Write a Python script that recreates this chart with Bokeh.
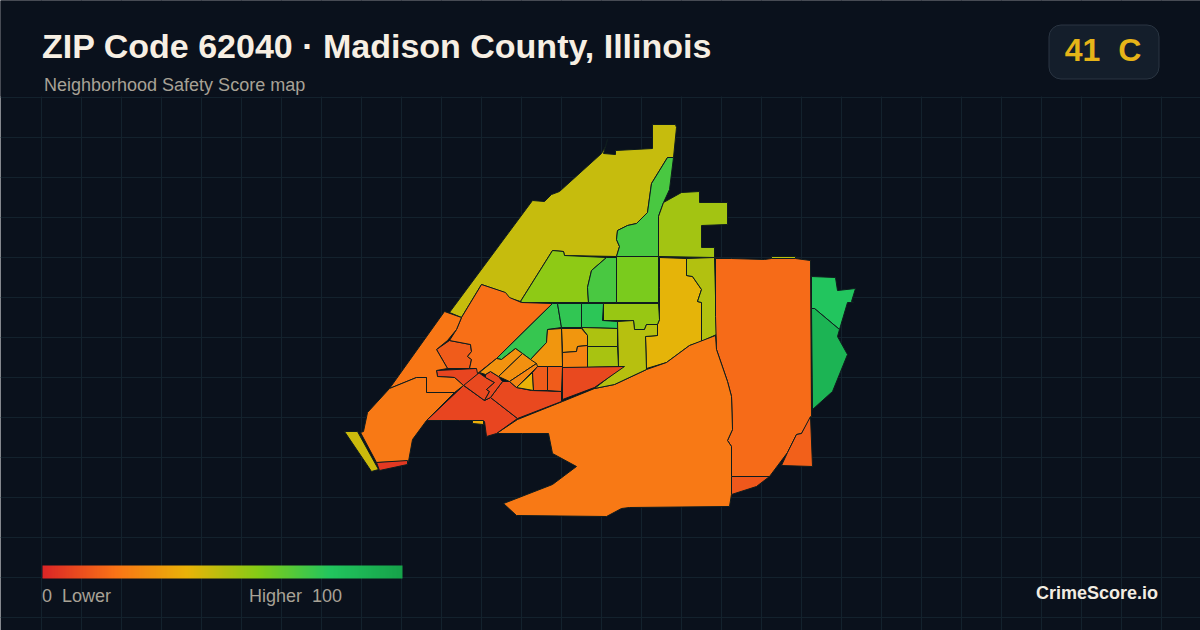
from bokeh.plotting import figure
from bokeh.embed import file_html
from bokeh.resources import INLINE
from bokeh.core.properties import value
from bokeh.models import FixedTicker, LinearColorMapper
import numpy as np

BG = "#0a111c"
title = "ZIP Code 62040 · Madison County, Illinois"
subtitle = "Neighborhood Safety Score map"
badge = "41 \u00a0C"
low_label = "0 \u00a0Lower"
high_label = "Higher \u00a0100"
brand = "CrimeScore.io"

stop_scores = [0, 20, 40, 60, 80, 100]
stop_colors = [(0xdc,0x26,0x26),(0xf9,0x73,0x16),(0xea,0xb3,0x08),(0x84,0xcc,0x16),(0x22,0xc5,0x5e),(0x16,0xa3,0x4a)]

# Tract outlines in map units, with the score of each
tracts = [
 (50, [(772,259),(796,259),(796,257),(772,257)]),
 (47, [(450,313),(533,201),(545,202),(552,195),(560,192),(602,154),(606,147),(608,140),(604,154),(616,155),(616,151),(653,149),(653,125),(676,125),(677,128),(674,158),(668,158),(652,184),(648,213),(637,224),(628,226),(618,231),(617,240),(620,247),(617,257),(565,256),(564,252),(553,251),(521,302),(508,298),(505,293),(482,285),(462,318)]),
 (72, [(674,158),(668,158),(652,184),(648,213),(637,224),(628,226),(618,231),(617,240),(620,247),(617,257),(659,257),(659,217),(664,203),(670,190)]),
 (54, [(664,203),(682,193),(700,192),(700,203),(728,203),(728,225),(702,226),(702,248),(715,248),(715,258),(659,257),(659,217)]),
 (58, [(553,251),(564,252),(565,256),(607,258),(592,271),(588,288),(589,303),(523,303),(521,302)]),
 (72, [(607,258),(617,258),(617,303),(589,303),(588,288),(592,271)]),
 (62, [(617,257),(659,257),(659,303),(617,303)]),
 (41, [(660,258),(687,259),(687,276),(693,277),(702,290),(698,302),(702,303),(702,342),(690,346),(667,363),(647,369),(646,337),(658,336),(658,325),(660,320),(660,288)]),
 (51, [(687,259),(715,258),(717,335),(702,342),(702,303),(698,302),(702,290),(693,277),(687,276)]),
 (18, [(716,259),(732,259),(765,260),(772,259),(796,259),(811,261),(812,417),(802,434),(797,435),(788,453),(770,477),(750,477),(732,477),(732,447),(728,441),(733,430),(732,397),(728,382),(717,350),(716,317)]),
 (15, [(811,417),(813,467),(782,466),(788,453),(797,435),(802,434)]),
 (13, [(732,477),(770,477),(757,487),(732,495)]),
 (80, [(812,277),(836,278),(838,291),(856,289),(852,302),(854,303),(848,303),(840,330),(815,309),(812,309)]),
 (90, [(812,309),(815,309),(840,330),(838,337),(848,355),(833,392),(813,410)]),
 (22, [(716,336),(717,350),(728,382),(732,397),(733,430),(728,441),(732,447),(732,477),(732,495),(730,507),(630,508),(622,509),(607,517),(517,516),(504,504),(553,485),(577,467),(553,454),(549,434),(523,434),(497,434),(518,420),(563,402),(595,389),(615,385),(647,370),(667,363),(690,346)]),
 (8, [(427,421),(464,386),(485,401),(491,398),(518,419),(497,434),(487,437),(485,422),(473,421),(460,421)]),
 (9, [(491,398),(503,382),(510,382),(517,388),(532,391),(562,392),(562,402),(518,419)]),
 (9, [(463,385),(479,373),(486,378),(495,383),(487,390),(490,392),(485,401)]),
 (9, [(486,378),(486,375),(491,372),(499,377),(503,382),(491,398),(485,401),(490,392),(487,390),(495,383)]),
 (8, [(437,371),(477,369),(480,373),(464,386),(455,378),(438,377)]),
 (14, [(437,350),(450,341),(471,345),(472,352),(468,357),(472,360),(470,369),(448,369)]),
 (19, [(482,285),(506,293),(510,298),(522,303),(553,304),(497,359),(478,374),(477,369),(470,369),(472,360),(468,357),(472,352),(471,345),(450,341),(457,330),(462,318)]),
 (21, [(445,312),(462,318),(457,330),(448,341),(437,350),(448,369),(437,371),(438,377),(455,378),(464,386),(455,393),(427,393),(427,378),(417,378),(390,389)]),
 (22, [(390,389),(417,378),(427,378),(427,393),(455,393),(427,421),(413,440),(409,462),(377,463),(361,433),(364,432),(368,413)]),
 (46, [(345,432),(358,432),(379,470),(372,472)]),
 (5, [(377,463),(408,461),(408,465),(380,471)]),
 (38, [(473,421),(484,421),(484,425),(473,424)]),
 (76, [(553,304),(558,304),(562,328),(548,330),(547,343),(531,360),(516,349),(502,360),(497,359)]),
 (77, [(558,304),(582,304),(582,328),(562,328)]),
 (78, [(582,304),(604,304),(603,321),(618,322),(618,329),(582,328)]),
 (56, [(604,304),(659,304),(660,320),(658,325),(647,325),(645,330),(635,330),(634,321),(604,321)]),
 (50, [(618,322),(634,321),(635,330),(645,330),(647,325),(658,325),(658,336),(646,337),(647,370),(615,385),(595,389),(623,367),(619,367)]),
 (52, [(582,328),(618,329),(618,347),(588,347),(588,336)]),
 (53, [(588,347),(618,347),(619,367),(588,368)]),
 (31, [(562,329),(582,329),(588,336),(588,346),(578,347),(577,352),(563,353)]),
 (25, [(563,353),(577,352),(578,347),(588,346),(588,368),(563,368)]),
 (31, [(562,329),(548,330),(547,343),(531,360),(538,367),(563,367)]),
 (30, [(480,373),(497,359),(502,360),(516,349),(523,354),(499,377),(491,372),(486,375)]),
 (29, [(499,377),(523,354),(531,360),(537,364),(510,382)]),
 (26, [(510,382),(537,364),(538,367),(517,388)]),
 (40, [(533,373),(534,391),(517,388)]),
 (14, [(538,367),(548,367),(548,391),(534,391),(533,373)]),
 (14, [(548,367),(563,367),(562,392),(548,391)]),
 (9, [(563,368),(625,367),(595,388),(563,400)]),
]


def score_color(s):
    c = [np.interp(s, stop_scores, [k[i] for k in stop_colors]) for i in range(3)]
    return "#%02x%02x%02x" % tuple(int(round(v)) for v in c)


p = figure(width=1200, height=630, x_range=(1, 1201), y_range=(631, 1),
           output_backend="svg", toolbar_location=None, min_border=0,
           background_fill_color=BG, border_fill_color=BG, outline_line_color=None)
p.axis.visible = False
p.xgrid.ticker = FixedTicker(ticks=[40 * i + 1.5 for i in range(1, 31)])
p.ygrid.ticker = FixedTicker(ticks=[97.5 + 40 * i for i in range(14)])
p.grid.grid_line_color = "#13222d"
p.grid.grid_line_width = 1

p.quad(left=[-5], right=[1207], top=[-5], bottom=[97], fill_color=BG, line_color=None)

p.patches(xs=[[q[0] for q in t[1]] for t in tracts],
          ys=[[q[1] for q in t[1]] for t in tracts],
          fill_color=[score_color(t[0]) for t in tracts],
          line_color="#0f1c1e", line_width=1, line_join="round")

fam = value("Liberation Sans")
EM = 0.37  # the text glyph sits this many ems below the y it is given


def label(x, base, s, size, color, bold=False, align="left"):
    p.text(x=[x], y=[base - EM * size], text=[s], text_font=fam, text_font_size=f"{size}px",
           text_font_style="bold" if bold else "normal", text_color=color,
           text_align=align, text_baseline="alphabetic")


label(42.5, 59, title, 34, "#f7efe3", bold=True)
label(44.5, 92, subtitle, 18, "#a8a296")

p.quad(left=[1049.5], right=[1159.5], top=[25.5], bottom=[79.5], fill_color="#141e2b",
       line_color="#2a3542", line_width=1, border_radius=12)
label(1103.5, 62, badge, 32, "#e6b418", bold=True, align="center")

mapper = LinearColorMapper(palette=[score_color(s) for s in np.linspace(0, 100, 256)], low=0, high=100)
p.image(image=[np.linspace(0, 100, 360).reshape(1, -1)], x=43, y=566, dw=360, dh=13, color_mapper=mapper)
label(42.5, 603, low_label, 18, "#a8a296")
label(342.5, 603, high_label, 18, "#a8a296", align="right")
label(1158.5, 600, brand, 18, "#f2ece2", bold=True, align="right")

open("out.html", "w").write(file_html(p, INLINE))
